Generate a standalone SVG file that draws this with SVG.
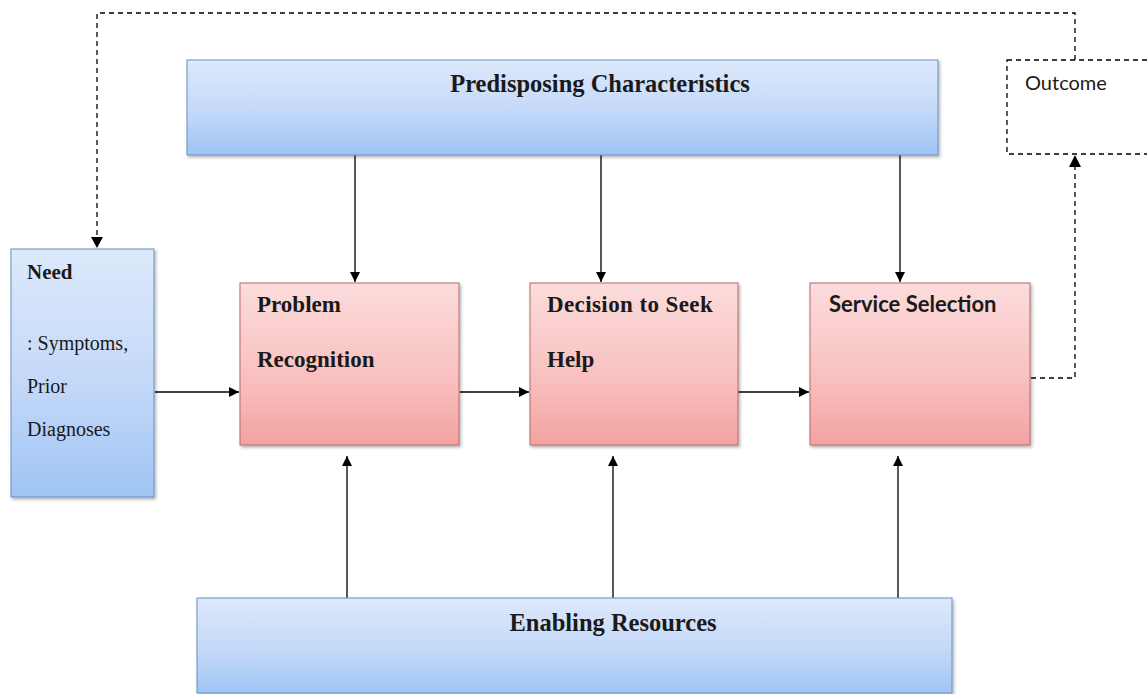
<svg xmlns="http://www.w3.org/2000/svg" width="1147" height="694" viewBox="0 0 1147 694">
  <defs>
    <linearGradient id="blueFill" x1="0" y1="0" x2="0" y2="1">
      <stop offset="0" stop-color="#dde9fb"/>
      <stop offset="0.55" stop-color="#c3d8f8"/>
      <stop offset="1" stop-color="#9fc4f4"/>
    </linearGradient>
    <linearGradient id="pinkFill" x1="0" y1="0" x2="0" y2="1">
      <stop offset="0" stop-color="#fcdcdc"/>
      <stop offset="0.55" stop-color="#f9c2c2"/>
      <stop offset="1" stop-color="#f4a2a2"/>
    </linearGradient>
    <filter id="shadow" x="-5%" y="-5%" width="112%" height="115%">
      <feDropShadow dx="1.5" dy="2" stdDeviation="1.5" flood-color="#000" flood-opacity="0.3"/>
    </filter>
    <marker id="arrow" viewBox="0 0 10 10" refX="10" refY="5" markerWidth="10" markerHeight="10" markerUnits="userSpaceOnUse" orient="auto">
      <path d="M0,0 L10,5 L0,10 z" fill="#000"/>
    </marker>
  </defs>
  <style>
    .blue { fill: url(#blueFill); stroke: #6b8fbf; stroke-width: 1; filter: url(#shadow); }
    .pink { fill: url(#pinkFill); stroke: #b86b6b; stroke-width: 1; filter: url(#shadow); }
    .dashbox { fill: #ffffff; stroke: #000; stroke-width: 1.3; stroke-dasharray: 5 4; }
    .serif { font-family: "Liberation Serif", "Times New Roman", serif; fill: #1a1a1a; }
    .sans { font-family: Lato, "Open Sans", "Liberation Sans", Arial, sans-serif; fill: #1a1a1a; }
    .b { font-weight: bold; }
    .title { font-size: 24.5px; }
    .step { font-size: 23px; }
    .note { font-size: 20px; }
    .link { fill: none; stroke: #000; stroke-width: 1.3; marker-end: url(#arrow); }
    .dashed { fill: none; stroke: #000; stroke-width: 1.3; stroke-dasharray: 5 4; }
  </style>
  <rect width="1147" height="694" fill="#ffffff"/>

  <!-- connectors -->
  <g id="connectors">
    <!-- feedback loop from Outcome back to Need -->
    <polyline class="dashed" points="1075,60 1075,13 97,13 97,238"/>
    <path d="M91,237 L103,237 L97,248 z" fill="#000"/>
    <!-- Service Selection to Outcome -->
    <polyline class="dashed" points="1031,378 1075,378 1075,167"/>
    <path d="M1069,167 L1081,167 L1075,155 z" fill="#000"/>
    <!-- predisposing characteristics feed down -->
    <line class="link" x1="355" y1="155" x2="355" y2="282"/>
    <line class="link" x1="601" y1="155" x2="601" y2="282"/>
    <line class="link" x1="900" y1="155" x2="900" y2="282"/>
    <!-- main flow -->
    <line class="link" x1="155" y1="392" x2="239" y2="392"/>
    <line class="link" x1="460" y1="392" x2="529" y2="392"/>
    <line class="link" x1="738" y1="392" x2="809" y2="392"/>
    <!-- enabling resources feed up -->
    <line class="link" x1="347" y1="598" x2="347" y2="456"/>
    <line class="link" x1="613" y1="598" x2="613" y2="456"/>
    <line class="link" x1="898" y1="598" x2="898" y2="456"/>
  </g>

  <g id="predisposing">
    <rect class="blue" x="187" y="60" width="751" height="95"/>
    <text class="serif b title" x="600" y="92" text-anchor="middle">Predisposing  Characteristics</text>
  </g>

  <g id="enabling">
    <rect class="blue" x="197" y="598" width="755" height="95"/>
    <text class="serif b title" x="613" y="631" text-anchor="middle">Enabling Resources</text>
  </g>

  <g id="need">
    <rect class="blue" x="11" y="249" width="143" height="248"/>
    <text class="serif b" x="27" y="279" font-size="21">Need</text>
    <text class="serif note" x="27" y="350">: Symptoms,</text>
    <text class="serif note" x="27" y="393">Prior</text>
    <text class="serif note" x="27" y="436">Diagnoses</text>
  </g>

  <g id="problem-recognition">
    <rect class="pink" x="240" y="283" width="219" height="162"/>
    <text class="serif b step" x="257" y="312">Problem</text>
    <text class="serif b step" x="257" y="367">Recognition</text>
  </g>

  <g id="decision-to-seek-help">
    <rect class="pink" x="530" y="283" width="208" height="162"/>
    <text class="serif b step" x="547" y="312" letter-spacing="0.4">Decision  to Seek</text>
    <text class="serif b step" x="547" y="367">Help</text>
  </g>

  <g id="service-selection">
    <rect class="pink" x="810" y="283" width="220" height="162"/>
    <text class="sans b" x="829" y="312" font-size="22">Service Selection</text>
  </g>

  <g id="outcome">
    <rect class="dashbox" x="1007" y="60" width="150" height="94"/>
    <text class="sans" x="1025" y="90" font-size="20">Outcome</text>
  </g>
</svg>
